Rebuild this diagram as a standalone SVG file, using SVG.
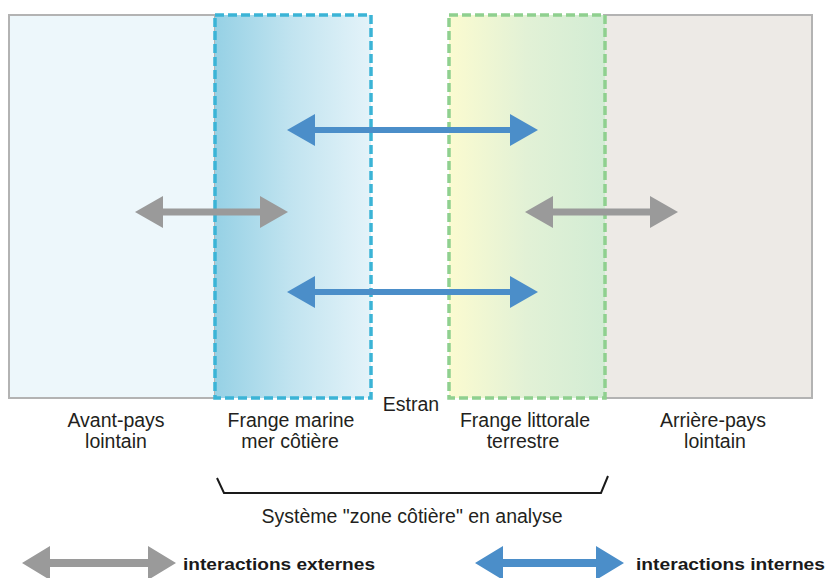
<svg xmlns="http://www.w3.org/2000/svg" width="826" height="578" viewBox="0 0 826 578">
  <defs>
    <linearGradient id="gBlue" x1="0" y1="0" x2="1" y2="0">
      <stop offset="0" stop-color="#96d1e5"/>
      <stop offset="0.5" stop-color="#c2e4f0"/>
      <stop offset="1" stop-color="#e4f3f9"/>
    </linearGradient>
    <linearGradient id="gGreen" x1="0" y1="0" x2="1" y2="0">
      <stop offset="0" stop-color="#fbfbd0"/>
      <stop offset="0.5" stop-color="#e2f1d6"/>
      <stop offset="1" stop-color="#d2ecd4"/>
    </linearGradient>
    <style>
      .lbl { font-family: "Liberation Sans", Arial, sans-serif; font-size: 19.5px; fill: #231f20; text-anchor: middle; }
      .leg { font-family: "Liberation Sans", Arial, sans-serif; font-size: 17px; font-weight: bold; fill: #1a1a1a; }
      .panel { stroke: #b3b3b3; stroke-width: 2; }
      .dashB { fill: none; stroke: #3bb4d6; stroke-width: 3.5; stroke-dasharray: 9 4; }
      .dashG { fill: none; stroke: #8fd08f; stroke-width: 3.5; stroke-dasharray: 9 4; }
      .ext { fill: #9a9a9a; }
      .int { fill: #4b8ec9; }
    </style>
  </defs>

  <rect width="826" height="578" fill="#ffffff"/>

  <g id="avant-pays">
    <rect class="panel" x="9" y="15" width="206" height="383" fill="#edf7fb"/>
    <text class="lbl" x="116" y="427">Avant-pays</text>
    <text class="lbl" x="116" y="448">lointain</text>
  </g>

  <g id="arriere-pays">
    <rect class="panel" x="604" y="15" width="208" height="383" fill="#edeae6"/>
    <text class="lbl" x="713" y="427">Arrière-pays</text>
    <text class="lbl" x="715" y="448">lointain</text>
  </g>

  <g id="frange-marine">
    <rect x="215" y="15" width="156" height="383" fill="url(#gBlue)"/>
    <rect class="dashB" x="215" y="15" width="156" height="383"/>
    <text class="lbl" x="291" y="427">Frange marine</text>
    <text class="lbl" x="290" y="448">mer côtière</text>
  </g>

  <g id="frange-littorale">
    <rect x="449" y="15" width="156" height="383" fill="url(#gGreen)"/>
    <rect class="dashG" x="449" y="15" width="156" height="383"/>
    <text class="lbl" x="525" y="427">Frange littorale</text>
    <text class="lbl" x="523" y="448">terrestre</text>
  </g>

  <g id="estran">
    <text class="lbl" x="411" y="411">Estran</text>
  </g>

  <g id="systeme">
    <path d="M217,478 L224,493 L601,493 L608,476" fill="none" stroke="#1a1a1a" stroke-width="2"/>
    <text class="lbl" x="412" y="523">Système "zone côtière" en analyse</text>
  </g>

  <g id="connectors">
    <path class="int" d="M287,130 L315,114 L315,127 L510,127 L510,114 L538,130 L510,146 L510,133 L315,133 L315,146 Z"/>
    <path class="int" d="M287,292 L315,276 L315,289 L510,289 L510,276 L538,292 L510,308 L510,295 L315,295 L315,308 Z"/>
    <path class="ext" d="M135,212 L163,196 L163,208.5 L260,208.5 L260,196 L288,212 L260,228 L260,215.5 L163,215.5 L163,228 Z"/>
    <path class="ext" d="M525,212 L553,196 L553,208.5 L650,208.5 L650,196 L678,212 L650,228 L650,215.5 L553,215.5 L553,228 Z"/>
  </g>

  <g id="legend-externes">
    <path class="ext" d="M22,563 L50,546 L50,559 L148,559 L148,546 L176,563 L148,580 L148,567 L50,567 L50,580 Z"/>
    <text class="leg" x="183" y="570" textLength="192" lengthAdjust="spacingAndGlyphs">interactions externes</text>
  </g>

  <g id="legend-internes">
    <path class="int" d="M475,563 L503,546 L503,559 L596,559 L596,546 L624,563 L596,580 L596,567 L503,567 L503,580 Z"/>
    <text class="leg" x="636" y="570" textLength="189" lengthAdjust="spacingAndGlyphs">interactions internes</text>
  </g>
</svg>
